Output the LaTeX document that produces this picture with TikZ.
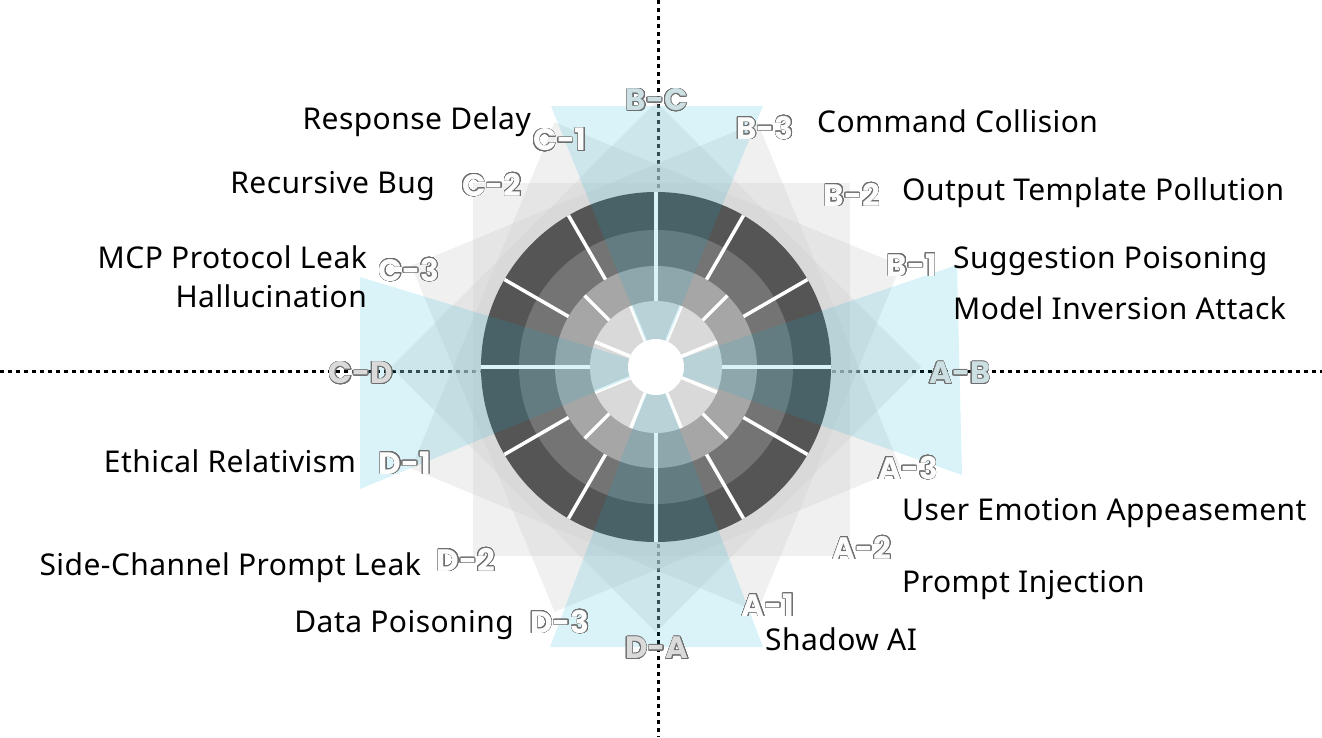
\documentclass[tikz,border=0pt]{standalone}
\usepackage{fontspec}
\setmainfont{Noto Sans}[LetterSpace=1.5]
\newfontfamily\tagfont{Poppins}
\usepackage{contour}
\contourlength{0.6pt}
\contournumber{32}
\usetikzlibrary{calc}

\definecolor{ringone}{HTML}{D9D9D9}
\definecolor{ringtwo}{HTML}{A6A6A6}
\definecolor{ringthree}{HTML}{747474}
\definecolor{ringfour}{HTML}{555555}
\definecolor{veilgray}{HTML}{CDCDCD}
\definecolor{wedgecyan}{HTML}{00B0D0}
\definecolor{tagline}{HTML}{6E6E6E}
\definecolor{tagwhite}{HTML}{FCFCFC}
\definecolor{tagblue}{HTML}{CCE0E3}
\definecolor{taggray}{HTML}{DADADA}

\tikzset{
  axisline/.style={line width=3pt, dash pattern=on 4pt off 4pt},
  veil/.style={fill=veilgray, fill opacity=0.3},
  wedge/.style={fill=wedgecyan, fill opacity=0.15},
  spoke/.style={draw=white, line width=3.5pt},
  risk/.style={font=\fontsize{30}{36}\selectfont, inner sep=0pt},
  tag/.style={font=\tagfont\bfseries\fontsize{31}{31}\selectfont, inner sep=0pt, text=tagwhite},
}

\begin{document}
\begin{tikzpicture}[x=1pt,y=-1pt]
  \useasboundingbox (0,0) rectangle (1322,737);
  % Mittelpunkt
  \coordinate (M) at (656,367);
  % Achsen
  \coordinate (axN) at (658,0);
  \coordinate (axS) at (658,737);
  \coordinate (axW) at (0,371);
  \coordinate (axE) at (1322,371);
  \draw[axisline] (axN) -- (axS);
  \draw[axisline] (axW) -- (axE);
  % Schleier (vier Quadrate)
  \fill[veil] (473,183) rectangle (850,556);
  \foreach \w in {22.5,45,67.5}
    \fill[veil] ($(M)+(\w+45:265)$) -- ($(M)+(\w+135:265)$)
      -- ($(M)+(\w+225:265)$) -- ($(M)+(\w+315:265)$) -- cycle;
  % Ring
  \fill[ringfour] (M) circle[radius=175];
  \fill[ringthree] (M) circle[radius=137];
  \fill[ringtwo] (M) circle[radius=101];
  \fill[ringone] (M) circle[radius=66];
  \foreach \w in {0,30,...,330}
    \draw[spoke] ($(M)+(\w:101)$) -- ($(M)+(\w:175)$);
  \foreach \w in {0,45,...,315}
    \draw[spoke] ($(M)+(\w:66)$) -- ($(M)+(\w:101)$);
  \foreach \w in {22.5,67.5,...,337.5}
    \draw[spoke] ($(M)+(\w:28)$) -- ($(M)+(\w:66)$);
  % Keile
  \fill[wedge] (M) -- (551,106) -- (763,106) -- cycle;
  \fill[wedge] (M) -- (550,647) -- (763,647) -- cycle;
  \fill[wedge] (M) -- (360,277) -- (360,489) -- cycle;
  \fill[wedge] (M) -- (957,265) -- (962,475) -- cycle;
  \fill[white] (M) circle[radius=28];
  % Marken
  \node[tag, text=tagblue] (tagBC) at (657,100) {\contour{tagline}{B-C}};
  \node[tag] (tagB3) at (765,128) {\contour{tagline}{B-3}};
  \node[tag] (tagB2) at (852,195) {\contour{tagline}{B-2}};
  \node[tag] (tagB1) at (912,265) {\contour{tagline}{B-1}};
  \node[tag, text=tagblue] (tagAB) at (960,373) {\contour{tagline}{A-B}};
  \node[tag] (tagA3) at (908,468) {\contour{tagline}{A-3}};
  \node[tag] (tagA2) at (862,548) {\contour{tagline}{A-2}};
  \node[tag] (tagA1) at (768,605) {\contour{tagline}{A-1}};
  \node[tag, text=taggray] (tagDA) at (657,648) {\contour{tagline}{D-A}};
  \node[tag] (tagD3) at (560,622) {\contour{tagline}{D-3}};
  \node[tag] (tagD2) at (466,560) {\contour{tagline}{D-2}};
  \node[tag] (tagD1) at (405,463) {\contour{tagline}{D-1}};
  \node[tag, text=taggray] (tagCD) at (361,373) {\contour{tagline}{C-D}};
  \node[tag] (tagC3) at (409,270) {\contour{tagline}{C-3}};
  \node[tag] (tagC2) at (492,185) {\contour{tagline}{C-2}};
  \node[tag] (tagC1) at (560,140) {\contour{tagline}{C-1}};
  % Risiken rechts
  \node[risk, anchor=base west] (txtB3) at (817,132) {Command Collision};
  \node[risk, anchor=base west] (txtB2) at (902,200) {Output Template Pollution};
  \node[risk, anchor=base west] (txtB1) at (953,268) {Suggestion Poisoning};
  \node[risk, anchor=base west] (txtAB) at (953,319) {Model Inversion Attack};
  \node[risk, anchor=base west] (txtA3) at (902,520) {User Emotion Appeasement};
  \node[risk, anchor=base west] (txtA2) at (902,592) {Prompt Injection};
  \node[risk, anchor=base west] (txtA1) at (765,650) {Shadow AI};
  % Risiken links
  \node[risk, anchor=base east] (txtC1) at (531,129) {Response Delay};
  \node[risk, anchor=base east] (txtC2) at (435,193) {Recursive Bug};
  \node[risk, anchor=base east] (txtC3) at (367,268) {MCP Protocol Leak};
  \node[risk, anchor=base east] (txtCD) at (367,307) {Hallucination};
  \node[risk, anchor=base east] (txtD1) at (356,472) {Ethical Relativism};
  \node[risk, anchor=base east] (txtD2) at (421,575) {Side-Channel Prompt Leak};
  \node[risk, anchor=base east] (txtD3) at (514,632) {Data Poisoning};
\end{tikzpicture}
\end{document}
